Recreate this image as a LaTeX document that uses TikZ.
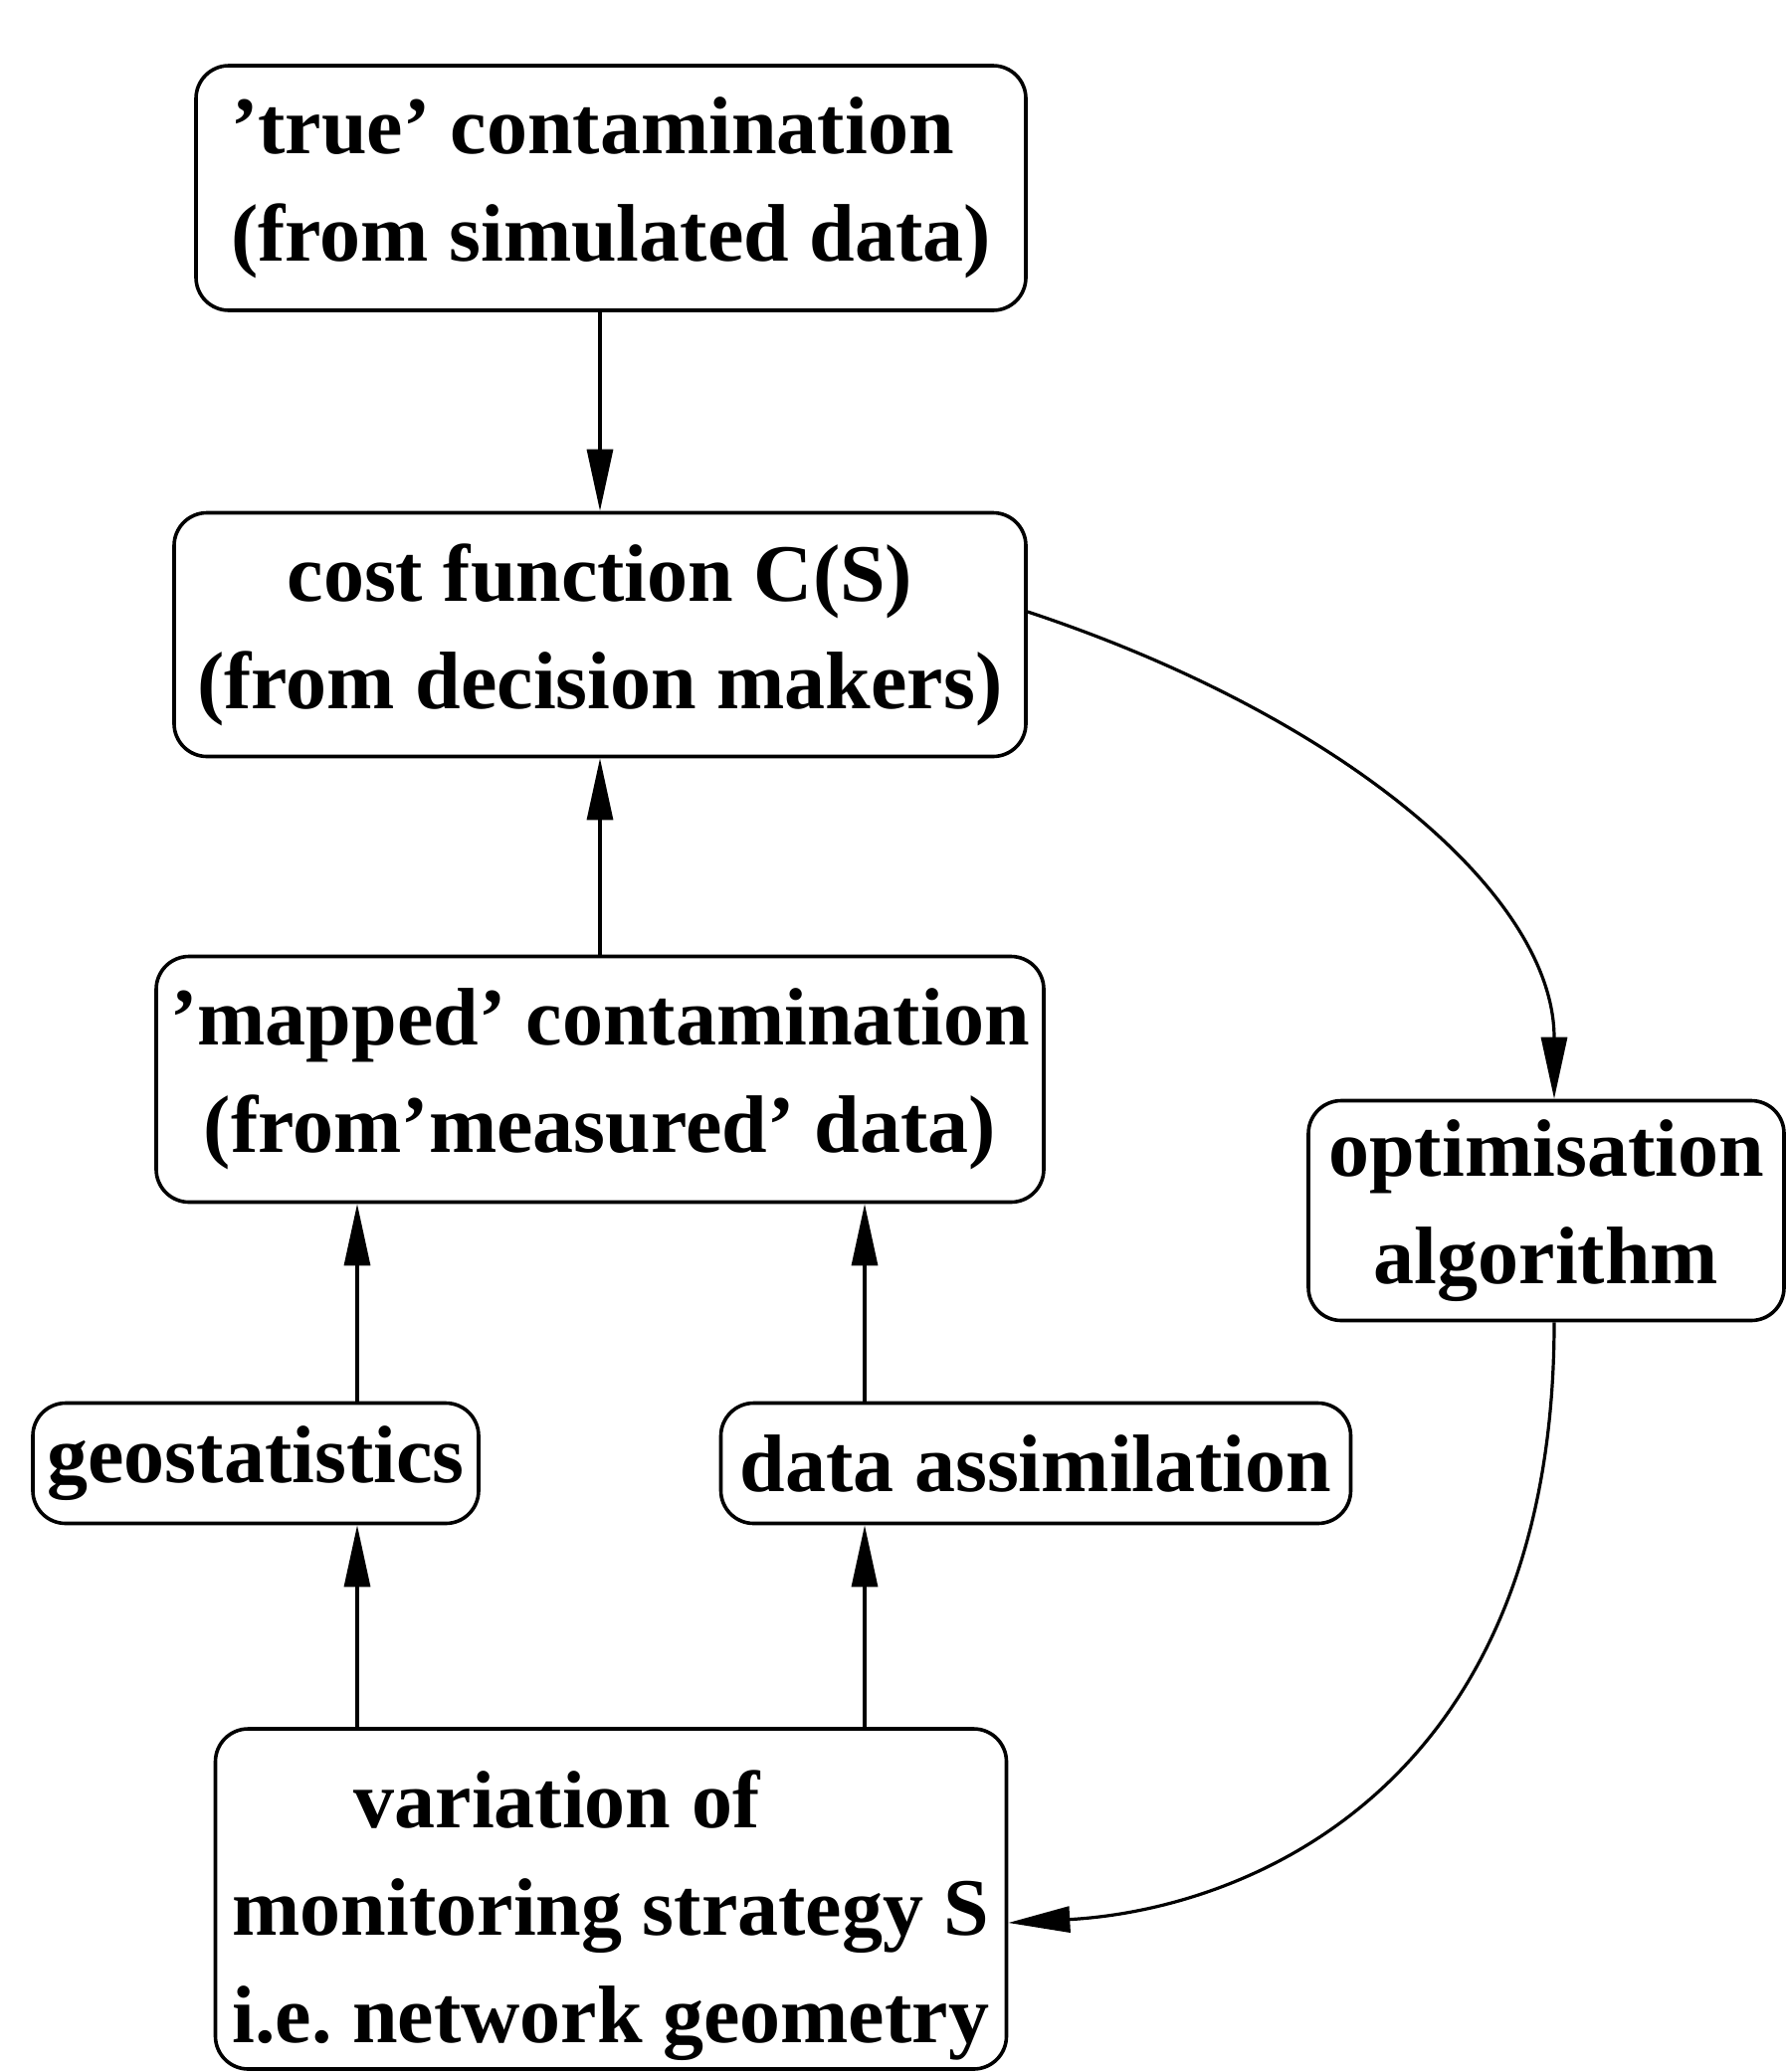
\documentclass[tikz,border=0pt]{standalone}
\usepackage{fontspec}
\setmainfont{Liberation Serif}
\usetikzlibrary{arrows.meta}
\begin{document}
\frenchspacing
\begin{tikzpicture}[x=1pt,y=-1pt,
  box/.style={draw, line width=3.6pt, rounded corners=33pt, inner sep=0pt,
    font=\fontsize{82}{108}\selectfont\bfseries},
  arr/.style={line width=3.2pt, -{Triangle[length=62pt,width=26pt]}}]
\useasboundingbox (0,0) rectangle (1796,2083);
\node[box, minimum width=834pt, minimum height=246pt, align=left] (truec) at (614,189)
  {’true’ contamination\\(from simulated data)};
\node[box, minimum width=856pt, minimum height=245pt, align=center] (cost) at (603,638)
  {cost function C(S)\\(from decision makers)};
\node[box, minimum width=892pt, minimum height=247pt, align=center] (mapped) at (603,1085)
  {’mapped’ contamination\\(from’measured’ data)};
\node[box, minimum width=448pt, minimum height=121pt] (geo) at (257,1471) {geostatistics};
\node[box, minimum width=633pt, minimum height=121pt] (assim) at (1041,1471) {data assimilation};
\node[box, minimum width=795pt, minimum height=342pt, align=left] (strat) at (614,1909)
  {\rule{0pt}{92pt}\hspace*{122pt}variation of\\monitoring strategy S\\i.e. network geometry};
\node[box, minimum width=478pt, minimum height=221pt, align=center] (opt) at (1554,1217)
  {optimisation\\algorithm};
\coordinate (gx) at (359,0);
\coordinate (ax) at (869,0);
\coordinate (ox) at (1562,0);
\draw[arr] (truec.south -| cost.north) -- (cost.north);
\draw[arr] (mapped.north) -- (cost.south);
\draw[arr] (geo.north -| gx) -- (mapped.south -| gx);
\draw[arr] (assim.north -| ax) -- (mapped.south -| ax);
\draw[arr] (strat.north -| gx) -- (geo.south -| gx);
\draw[arr] (strat.north -| ax) -- (assim.south -| ax);
\draw[arr] (cost.east |- 0,615) .. controls (1350,720) and (1562,900) .. (opt.north -| ox);
\draw[arr] (opt.south -| ox) .. controls (1562,1800) and (1250,1920) .. (strat.east |- 0,1933);
\end{tikzpicture}
\end{document}
